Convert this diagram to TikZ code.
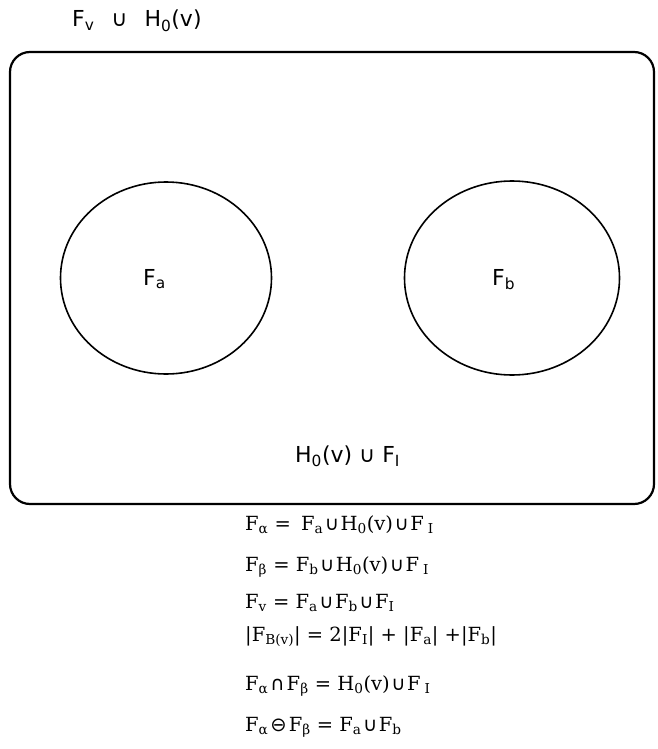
\documentclass[tikz,border=0pt]{standalone}
\usepackage{fontspec}
\usetikzlibrary{shapes.geometric}
\setmainfont{DejaVu Sans}
\newfontfamily\eqf{DejaVu Serif}
\newfontfamily\opf{DejaVu Sans}
\newcommand{\sbs}[1]{\textsubscript{#1}}
\newcommand{\gp}{\hspace{4pt}}
\newcommand{\myun}{\hspace{1.5pt}{\opf ∪}\hspace{1.5pt}}
\begin{document}
\begin{tikzpicture}[x=1pt,y=-1pt,
  lbl/.style={font=\fontsize{22}{26}\selectfont, inner sep=0pt, anchor=base west},
  eqn/.style={font=\eqf\fontsize{19.5}{23}\selectfont, inner sep=0pt, anchor=base west},
  region/.style={draw, line width=2.2pt},
  setloop/.style={draw, line width=1.6pt}]
\useasboundingbox (0,0) rectangle (658,749);
\draw[region, rounded corners=20pt] (10,52) rectangle (654,504);
\node[setloop, ellipse, minimum width=211pt, minimum height=192pt, inner sep=0pt] (ca) at (166,278) {};
\node[setloop, ellipse, minimum width=215pt, minimum height=194pt, inner sep=0pt] (cb) at (512,278) {};
\node[lbl] (top) at (72,27) {F\sbs{v}\hspace{17pt}∪\hspace{17pt}H\sbs{0}(v)};
\node[lbl] (fa) at (143,285) {F\sbs{a}};
\node[lbl] (fb) at (492,285) {F\sbs{b}};
\node[lbl] (hf) at (295,462) {H\sbs{0}(v) ∪ F\sbs{I}};
\node[eqn] (e1) at (245,530) {F\sbs{α} = \gp F\sbs{a}\myun H\sbs{0}(v)\myun F\gp\sbs{I}};
\node[eqn] (e2) at (245,571) {F\sbs{β} = F\sbs{b}\myun H\sbs{0}(v)\myun F\gp\sbs{I}};
\node[eqn] (e3) at (245,608) {F\sbs{v} = F\sbs{a}\myun F\sbs{b}\myun F\sbs{I}};
\node[eqn] (e4) at (245,641) {|F\sbs{B(v)}| = 2|F\sbs{I}| + |F\sbs{a}| +|F\sbs{b}|};
\node[eqn] (e5) at (245,690) {F\sbs{α}\hspace{2pt}{\opf∩}\hspace{2pt}F\sbs{β} = H\sbs{0}(v)\myun F\gp\sbs{I}};
\node[eqn] (e6) at (245,731) {F\sbs{α}\hspace{2pt}{\opf⊖}\hspace{2pt}F\sbs{β} = F\sbs{a}\myun F\sbs{b}};
\end{tikzpicture}
\end{document}
